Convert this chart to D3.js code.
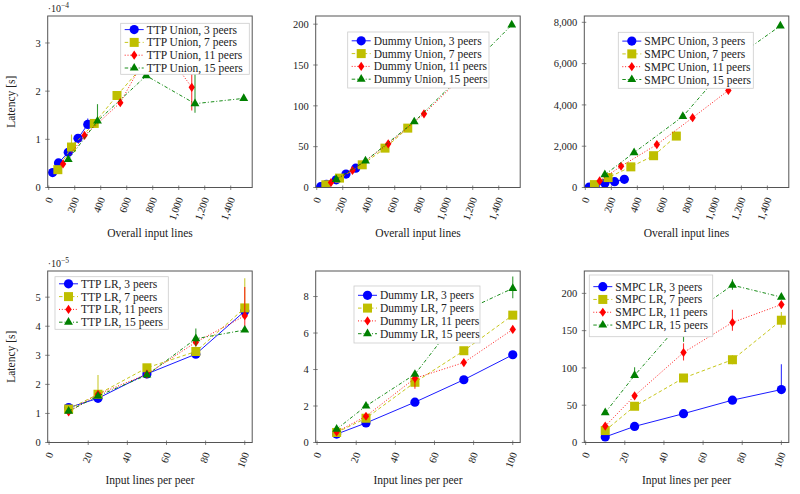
<!DOCTYPE html>
<html>
<head>
<meta charset="utf-8">
<script src="https://cdn.jsdelivr.net/npm/d3@7"></script>
<style>
  body { margin: 0; background: #fff; }
  svg { display: block; font-family: "Liberation Serif", "DejaVu Serif", serif; }
</style>
</head>
<body>
<svg id="chart" width="800" height="494"></svg>
<script>
// x values
var linesPerPeer = [10, 25, 50, 75, 100];
var overallLines = [[30, 75, 150, 225, 300], [70, 175, 350, 525, 700], [110, 275, 550, 825, 1100], [150, 375, 750, 1125, 1500]];
var peerCounts = [3, 7, 11, 15];

// latencies, one row per peer count (3, 7, 11, 15)
var ttpUnion = [[0.31, 0.51, 0.73, 1.02, 1.31], [0.37, 0.84, 1.33, 1.91, 2.45], [0.49, 1.08, 1.76, 3.1, 2.08], [0.58, 1.38, 2.32, 1.74, 1.85]];   // x 1e-4
var dummyUnion = [[1, 4, 9.4, 16.4, 23.7], [3.3, 11.5, 27.8, 48.2, 72.7], [6.1, 20.8, 53.5, 90.2, 133], [10, 32.5, 80.5, 139, 199]];
var smpcUnion = [[20, 65, 200, 280, 395], [140, 480, 1000, 1540, 2490], [320, 1030, 2080, 3380, 4700], [620, 1690, 3440, 6150, 7830]];
var ttpLR = [[1.2, 1.52, 2.36, 3.04, 4.52], [1.15, 1.66, 2.57, 3.13, 4.63], [1.05, 1.66, 2.35, 3.45, 4.36], [1.08, 1.6, 2.32, 3.57, 3.87]];   // x 1e-5
var dummyLR = [[0.46, 1.07, 2.21, 3.44, 4.81], [0.55, 1.33, 3.3, 5.03, 6.98], [0.58, 1.44, 3.52, 4.38, 6.2], [0.73, 2.0, 3.74, 7.2, 8.45]];
var smpcLR = [[7.5, 21.6, 38.7, 56.8, 71], [16, 48.6, 86.5, 111, 164], [22, 62.6, 120.7, 161, 185], [40, 90, 165, 211, 195]];

// error bars: [series, point, low, high]
var errTTPUnion = [[0, 4, 1.26, 1.43], [1, 1, 0.8, 1.1], [3, 1, 1.36, 1.73], [2, 4, 1.6, 2.5], [3, 3, 1.55, 2.45]];
var errDummyUnion = [];
var errSmpcUnion = [];
var errTTPLR = [[1, 1, 1.6, 2.32], [1, 4, 4.5, 5.65], [2, 4, 4.0, 5.35], [3, 3, 3.3, 3.92]];
var errDummyLR = [[2, 2, 2.95, 3.6], [3, 4, 7.9, 9.1]];
var errSmpcLR = [[0, 4, 68, 105], [1, 3, 105, 117], [1, 4, 154, 175], [2, 2, 110, 133], [2, 3, 150, 178], [3, 1, 88, 101], [3, 2, 135, 170], [3, 3, 205, 219]];

// ticks
var xTicksUnion = [0, 200, 400, 600, 800, 1000, 1200, 1400];
var xTicksLR = [0, 20, 40, 60, 80, 100];

var seriesStyle = [
  { color: '#0000ff', dash: null, marker: 'circle' },
  { color: '#bfbf00', dash: '3.5,2.5', marker: 'square' },
  { color: '#ff0000', dash: '1,1.8', marker: 'diamond' },
  { color: '#008000', dash: '3.5,2,1,2', marker: 'triangle' }
];

var W = 204.5, H = 171.5;
var panels = [
  { name: 'TTP Union', xs: overallLines, ys: ttpUnion, err: errTTPUnion, xTicks: xTicksUnion, yTicks: [0, 1, 2, 3],
    xDomain: [-8, 1565], yDomain: [0, 3.56], exp: '−4', left: 47.7, top: 16, legend: [120.7, 23.3, 128.6, 51], yLabel: true, xLabel: 'Overall input lines', xLabelGap: 49 },
  { name: 'Dummy Union', xs: overallLines, ys: dummyUnion, err: errDummyUnion, xTicks: xTicksUnion, yTicks: [0, 50, 100, 150, 200],
    xDomain: [-8, 1565], yDomain: [0, 210], left: 315.7, top: 16, legend: [347.7, 32, 141.3, 56], xLabel: 'Overall input lines', xLabelGap: 49 },
  { name: 'SMPC Union', xs: overallLines, ys: smpcUnion, err: errSmpcUnion, xTicks: xTicksUnion, yTicks: [0, 2000, 4000, 6000, 8000],
    xDomain: [-8, 1565], yDomain: [0, 8306], left: 584.3, top: 16, legend: [618.3, 32.3, 135, 56], xLabel: 'Overall input lines', xLabelGap: 49 },
  { name: 'TTP LR', xs: null, ys: ttpLR, err: errTTPLR, xTicks: xTicksLR, yTicks: [0, 1, 2, 3, 4, 5],
    xDomain: [-0.7, 103.8], yDomain: [0, 5.9], exp: '−5', left: 47.7, top: 271, legend: [55, 276.7, 113.3, 52.6], yLabel: true, xLabel: 'Input lines per peer', xLabelGap: 41 },
  { name: 'Dummy LR', xs: null, ys: dummyLR, err: errDummyLR, xTicks: xTicksLR, yTicks: [0, 2, 4, 6, 8],
    xDomain: [-0.7, 103.8], yDomain: [0, 9.4], left: 315.7, top: 271, legend: [354, 286, 126, 57], xLabel: 'Input lines per peer', xLabelGap: 41 },
  { name: 'SMPC LR', xs: null, ys: smpcLR, err: errSmpcLR, xTicks: xTicksLR, yTicks: [0, 50, 100, 150, 200],
    xDomain: [-0.7, 103.8], yDomain: [0, 230], left: 584.3, top: 271, legend: [589.3, 275, 123.4, 61.7], xLabel: 'Input lines per peer', xLabelGap: 41 }
];

var svg = d3.select('#chart');
svg.append('rect').attr('width', 800).attr('height', 494).attr('fill', '#fff');

function drawMarker(sel, type, color) {
  if (type == 'circle') {
    sel.append('circle').attr('r', 4.6).attr('fill', color);
  } else if (type == 'square') {
    sel.append('rect').attr('x', -4.5).attr('y', -4.5).attr('width', 9).attr('height', 9).attr('fill', color);
  } else if (type == 'diamond') {
    sel.append('path').attr('d', 'M0,-4.6L3.2,0L0,4.6L-3.2,0Z').attr('fill', color);
  } else {
    sel.append('path').attr('d', d3.symbol().type(d3.symbolTriangle).size(34)).attr('fill', color);
  }
}

var fmt = d3.format(',');

panels.forEach(function(p, pi) {
  var g = svg.append('g').attr('transform', 'translate(' + p.left + ',' + p.top + ')');
  var x = d3.scaleLinear().domain(p.xDomain).range([0, W]);
  var y = d3.scaleLinear().domain(p.yDomain).range([H, 0]);

  var clipId = 'clip' + pi;
  g.append('clipPath').attr('id', clipId).append('rect').attr('width', W).attr('height', H);

  // y ticks
  var yt = g.append('g').attr('class', 'ytick');
  p.yTicks.forEach(function(t) {
    yt.append('line').attr('x1', -2.5).attr('x2', 2).attr('y1', y(t)).attr('y2', y(t)).attr('stroke', '#666').attr('stroke-width', 0.8);
    yt.append('text').attr('x', -7).attr('y', y(t)).attr('dy', '0.35em').attr('text-anchor', 'end')
      .attr('font-size', 10.5).attr('fill', '#222').text(fmt(t));
  });
  // x ticks
  var xt = g.append('g').attr('class', 'xtick');
  p.xTicks.forEach(function(t) {
    xt.append('line').attr('x1', x(t)).attr('x2', x(t)).attr('y1', H - 2).attr('y2', H + 2.5).attr('stroke', '#666').attr('stroke-width', 0.8);
    xt.append('text').attr('transform', 'translate(' + (x(t) + 1) + ',' + (H + 10) + ') rotate(-70)')
      .attr('text-anchor', 'end').attr('dy', '0.35em').attr('font-size', 10.5).attr('fill', '#222').text(fmt(t));
  });

  var plot = g.append('g').attr('clip-path', 'url(#' + clipId + ')');

  p.ys.forEach(function(vals, si) {
    var st = seriesStyle[si];
    var xv = p.xs ? p.xs[si] : linesPerPeer;
    var pts = vals.map(function(v, i) { return [xv[i], v]; });
    plot.append('path').datum(pts)
      .attr('d', d3.line().x(function(d) { return x(d[0]); }).y(function(d) { return y(d[1]); }))
      .attr('fill', 'none').attr('stroke', st.color).attr('stroke-width', 0.9)
      .attr('stroke-dasharray', st.dash);
    p.err.filter(function(e) { return e[0] == si; }).forEach(function(e) {
      plot.append('line').attr('x1', x(xv[e[1]])).attr('x2', x(xv[e[1]]))
        .attr('y1', y(e[2])).attr('y2', y(e[3])).attr('stroke', st.color).attr('stroke-width', 1.1).attr('opacity', 0.8);
    });
    pts.forEach(function(d) {
      var m = plot.append('g').attr('transform', 'translate(' + x(d[0]) + ',' + y(d[1]) + ')');
      drawMarker(m, st.marker, st.color);
    });
  });

  // axis box
  g.append('rect').attr('width', W).attr('height', H).attr('fill', 'none').attr('stroke', '#555').attr('stroke-width', 1);

  // exponent label
  if (p.exp) {
    var et = g.append('text').attr('x', 0).attr('y', -4).attr('font-size', 10).attr('fill', '#222');
    et.append('tspan').text('·10');
    et.append('tspan').attr('dy', -4).attr('font-size', 7.5).text(p.exp);
  }

  // axis labels
  g.append('text').attr('x', W / 2).attr('y', H + p.xLabelGap).attr('text-anchor', 'middle').attr('font-size', 11.5).attr('fill', '#222').text(p.xLabel);
  if (p.yLabel) {
    g.append('text').attr('transform', 'translate(' + (15 - p.left) + ',' + (H / 2) + ') rotate(-90)')
      .attr('text-anchor', 'middle').attr('font-size', 11.5).attr('fill', '#222').text('Latency [s]');
  }

  // legend
  var L = p.legend;
  var lg = svg.append('g').attr('transform', 'translate(' + L[0] + ',' + L[1] + ')');
  lg.append('rect').attr('width', L[2]).attr('height', L[3]).attr('fill', '#fff').attr('stroke', '#ccc').attr('stroke-width', 0.8);
  var rowH = 12.8, y0 = (L[3] - 3 * rowH) / 2;
  peerCounts.forEach(function(n, si) {
    var st = seriesStyle[si];
    var row = lg.append('g').attr('transform', 'translate(0,' + (y0 + si * rowH) + ')');
    row.append('line').attr('x1', 4).attr('x2', 23).attr('stroke', st.color).attr('stroke-width', 0.9).attr('stroke-dasharray', st.dash);
    var m = row.append('g').attr('transform', 'translate(13.5,0)');
    drawMarker(m, st.marker, st.color);
    row.append('text').attr('x', 26).attr('dy', '0.35em').attr('font-size', 11.5).attr('fill', '#222')
      .text(p.name + ', ' + n + ' peers');
  });
});
</script>
</body>
</html>
